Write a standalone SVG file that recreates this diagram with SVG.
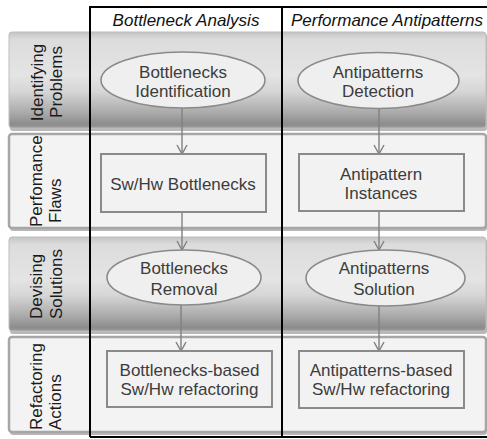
<svg xmlns="http://www.w3.org/2000/svg" width="487" height="439" viewBox="0 0 487 439">
<defs>
<linearGradient id="dark" x1="0" y1="0" x2="0" y2="1">
<stop offset="0" stop-color="#c4c4c4"/>
<stop offset="0.08" stop-color="#dcdcdc"/>
<stop offset="0.45" stop-color="#e4e4e4"/>
<stop offset="0.62" stop-color="#d6d6d6"/>
<stop offset="0.85" stop-color="#a8a8a8"/>
<stop offset="0.96" stop-color="#8c8c8c"/>
<stop offset="1" stop-color="#9a9a9a"/>
</linearGradient>
<marker id="arr" markerWidth="12" markerHeight="12" refX="10" refY="6" orient="auto" markerUnits="userSpaceOnUse">
<path d="M1,1 L10,6 L1,11" fill="none" stroke="#808080" stroke-width="1.4"/>
</marker>
</defs>
<style>
.shadow{fill:#b8b8b8;}
.dark{fill:url(#dark);stroke:#bdbdbd;stroke-width:1;}
.light{fill:#f3f3f3;stroke:#a6a6a6;stroke-width:2.5;}
.lbl{font-family:"Liberation Sans",Arial,sans-serif;font-size:17px;fill:#1a1a1a;}
.hdr{font-family:"Liberation Sans",Arial,sans-serif;font-size:17px;font-style:italic;fill:#111;text-anchor:middle;}
.ell{fill:#efefef;stroke:#8a8a8a;stroke-width:1.6;}
.box{fill:#f2f2f2;stroke:#8a8a8a;stroke-width:2;}
.t{font-family:"Liberation Sans",Arial,sans-serif;font-size:17px;fill:#3c3c3c;text-anchor:middle;}
.con{stroke:#808080;stroke-width:1.4;fill:none;marker-end:url(#arr);}
.frame{fill:none;stroke:#000;stroke-width:2;}
</style>

<g id="bands">
<rect class="shadow" x="10" y="34" width="477" height="97" rx="3"/>
<rect class="dark" x="9" y="32" width="477" height="96" rx="3"/>
<rect class="shadow" x="10" y="136" width="477" height="95" rx="3"/>
<rect class="light" x="9" y="134" width="477" height="94" rx="3"/>
<rect class="shadow" x="10" y="239" width="477" height="95" rx="3"/>
<rect class="dark" x="9" y="237" width="477" height="94" rx="3"/>
<rect class="shadow" x="10" y="339" width="477" height="96" rx="3"/>
<rect class="light" x="9" y="337" width="477" height="95" rx="3"/>
</g>

<g id="row-labels">
<text class="lbl" text-anchor="middle" transform="translate(43,82.5) rotate(-90)">Identifying</text>
<text class="lbl" text-anchor="middle" transform="translate(62,82) rotate(-90)">Problems</text>
<text class="lbl" transform="translate(42,227) rotate(-90)">Perfomance</text>
<text class="lbl" transform="translate(61,223) rotate(-90)">Flaws</text>
<text class="lbl" transform="translate(42,319) rotate(-90)">Devising</text>
<text class="lbl" transform="translate(62,319) rotate(-90)">Solutions</text>
<text class="lbl" transform="translate(42,430) rotate(-90)">Refactoring</text>
<text class="lbl" transform="translate(61,430) rotate(-90)">Actions</text>
</g>

<g id="frame">
<path class="frame" d="M90,437 L90,7 L488,7"/>
<line class="frame" x1="90" y1="437" x2="488" y2="437"/>
<line class="frame" x1="282" y1="7" x2="282" y2="437"/>
<text class="hdr" x="186" y="26">Bottleneck Analysis</text>
<text class="hdr" x="387" y="26">Performance Antipatterns</text>
</g>

<g id="connectors">
<line class="con" x1="182" y1="108" x2="182" y2="154"/>
<line class="con" x1="379" y1="109" x2="379" y2="154"/>
<line class="con" x1="182" y1="212" x2="182" y2="250"/>
<line class="con" x1="379" y1="211" x2="379" y2="250"/>
<line class="con" x1="181" y1="305" x2="181" y2="351"/>
<line class="con" x1="379" y1="306" x2="379" y2="351"/>
</g>

<g id="bottlenecks-identification">
<ellipse class="ell" cx="183" cy="80" rx="82" ry="28"/>
<text class="t" x="183" y="78">Bottlenecks</text>
<text class="t" x="183" y="97">Identification</text>
</g>
<g id="antipatterns-detection">
<ellipse class="ell" cx="378.5" cy="80.5" rx="80.5" ry="28"/>
<text class="t" x="378" y="78">Antipatterns</text>
<text class="t" x="378" y="97">Detection</text>
</g>
<g id="swhw-bottlenecks">
<rect class="box" x="101" y="154" width="165" height="58"/>
<text class="t" x="183" y="190">Sw/Hw Bottlenecks</text>
</g>
<g id="antipattern-instances">
<rect class="box" x="299" y="154" width="165" height="57"/>
<text class="t" x="381" y="180">Antipattern</text>
<text class="t" x="381" y="199">Instances</text>
</g>
<g id="bottlenecks-removal">
<ellipse class="ell" cx="184" cy="277.5" rx="77" ry="27.5"/>
<text class="t" x="184" y="274">Bottlenecks</text>
<text class="t" x="184" y="295">Removal</text>
</g>
<g id="antipatterns-solution">
<ellipse class="ell" cx="385.5" cy="278" rx="79.5" ry="28"/>
<text class="t" x="384" y="274">Antipatterns</text>
<text class="t" x="384" y="295">Solution</text>
</g>
<g id="bottlenecks-refactoring">
<rect class="box" x="107" y="351" width="165" height="56"/>
<text class="t" x="189.5" y="376">Bottlenecks-based</text>
<text class="t" x="189.5" y="395">Sw/Hw refactoring</text>
</g>
<g id="antipatterns-refactoring">
<rect class="box" x="299" y="351" width="165" height="57"/>
<text class="t" x="381" y="376">Antipatterns-based</text>
<text class="t" x="381" y="395">Sw/Hw refactoring</text>
</g>
</svg>
